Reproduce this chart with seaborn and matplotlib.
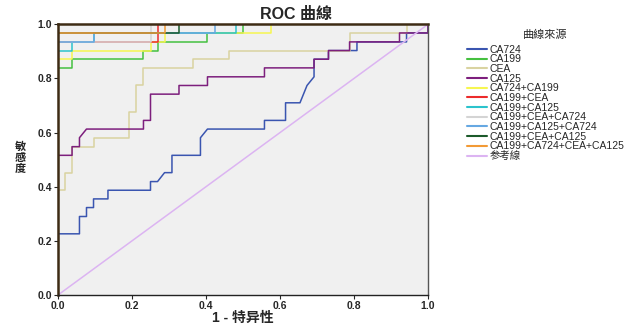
import matplotlib
matplotlib.use('Agg')
import matplotlib.pyplot as plt
import seaborn as sns
import pandas as pd

# ---------------- data ----------------
names = ['CA724', 'CA199', 'CEA', 'CA125', 'CA724+CA199', 'CA199+CEA',
         'CA199+CA125', 'CA199+CEA+CA724', 'CA199+CA125+CA724',
         'CA199+CEA+CA125', 'CA199+CA724+CEA+CA125', '参考線']

CA724_x = [0, 0, 0.058, 0.058, 0.077, 0.077, 0.096, 0.096, 0.135, 0.135, 0.250, 0.250,
           0.269, 0.288, 0.308, 0.308, 0.385, 0.385, 0.404, 0.558, 0.558, 0.615, 0.615,
           0.654, 0.673, 0.692, 0.692, 0.731, 0.731, 0.808, 0.808, 0.942, 0.942, 1.0, 1.0]
CA724_y = [0, 0.226, 0.226, 0.290, 0.290, 0.323, 0.323, 0.355, 0.355, 0.387, 0.387, 0.419,
           0.419, 0.452, 0.452, 0.516, 0.516, 0.581, 0.613, 0.613, 0.645, 0.645, 0.710,
           0.710, 0.774, 0.806, 0.871, 0.871, 0.903, 0.903, 0.935, 0.935, 0.968, 0.968, 1.0]

CA199_x = [0, 0, 0.038, 0.038, 0.231, 0.231, 0.269, 0.269, 0.404, 0.404, 0.500, 0.500, 1.0]
CA199_y = [0, 0.839, 0.839, 0.871, 0.871, 0.903, 0.903, 0.935, 0.935, 0.968, 0.968, 1.0, 1.0]

CEA_x = [0, 0, 0.019, 0.019, 0.038, 0.038, 0.096, 0.096, 0.192, 0.192, 0.212, 0.212,
         0.231, 0.231, 0.365, 0.365, 0.462, 0.462, 0.788, 0.788, 0.942, 0.942, 1.0]
CEA_y = [0, 0.387, 0.387, 0.452, 0.452, 0.548, 0.548, 0.581, 0.581, 0.677, 0.677, 0.774,
         0.774, 0.839, 0.839, 0.871, 0.871, 0.903, 0.903, 0.968, 0.968, 1.0, 1.0]

CA125_x = [0, 0, 0.038, 0.038, 0.058, 0.058, 0.077, 0.231, 0.231, 0.250, 0.250, 0.327, 0.327,
           0.404, 0.404, 0.558, 0.558, 0.692, 0.692, 0.731, 0.731, 0.788, 0.788, 0.923,
           0.923, 1.0, 1.0]
CA125_y = [0, 0.516, 0.516, 0.548, 0.548, 0.581, 0.613, 0.613, 0.645, 0.645, 0.742, 0.742,
           0.774, 0.774, 0.806, 0.806, 0.839, 0.839, 0.871, 0.871, 0.903, 0.903, 0.935,
           0.935, 0.968, 0.968, 1.0]

C724_199_x = [0, 0, 0.038, 0.038, 0.250, 0.250, 0.288, 0.288, 0.577, 0.577, 1.0]
C724_199_y = [0, 0.871, 0.871, 0.903, 0.903, 0.935, 0.935, 0.968, 0.968, 1.0, 1.0]

C199_CEA_x = [0, 0, 0.269, 0.269, 1.0]
C199_CEA_y = [0, 0.935, 0.935, 1.0, 1.0]

C199_125_x = [0, 0, 0.038, 0.038, 0.096, 0.096, 0.481, 0.481, 1.0]
C199_125_y = [0, 0.903, 0.903, 0.935, 0.935, 0.968, 0.968, 1.0, 1.0]

C199_CEA_724_x = [0, 0, 0.250, 0.250, 1.0]
C199_CEA_724_y = [0, 0.935, 0.935, 1.0, 1.0]

C199_125_724_x = [0, 0, 0.096, 0.096, 0.423, 0.423, 1.0]
C199_125_724_y = [0, 0.935, 0.935, 0.968, 0.968, 1.0, 1.0]

C199_CEA_125_x = [0, 0, 0.327, 0.327, 1.0]
C199_CEA_125_y = [0, 0.968, 0.968, 1.0, 1.0]

C_all_x = [0, 0, 0.288, 0.288, 1.0]
C_all_y = [0, 0.968, 0.968, 1.0, 1.0]

REF_x = [0, 1.0]
REF_y = [0, 1.0]

xs = [CA724_x, CA199_x, CEA_x, CA125_x, C724_199_x, C199_CEA_x, C199_125_x,
      C199_CEA_724_x, C199_125_724_x, C199_CEA_125_x, C_all_x, REF_x]
ys = [CA724_y, CA199_y, CEA_y, CA125_y, C724_199_y, C199_CEA_y, C199_125_y,
      C199_CEA_724_y, C199_125_724_y, C199_CEA_125_y, C_all_y, REF_y]

colors = ['#3a55b0', '#45c040', '#d9d3a0', '#7d1f7d', '#f6f650', '#ec2b2b',
          '#2bc3cc', '#d4d4d4', '#66a8e2', '#1b5a2a', '#f29a35', '#dcb4f2']

frames = [pd.DataFrame({'fpr': x, 'tpr': y, 'curve': n}) for n, x, y in zip(names, xs, ys)]
df = pd.concat(frames, ignore_index=True)

# ---------------- plot ----------------
sns.set_style('white')
plt.rcParams['font.family'] = ['Liberation Sans', 'Noto Sans CJK SC']

fig = plt.figure(figsize=(6.32, 3.30), dpi=100)
ax = fig.add_axes([58 / 632, 35 / 330, 370 / 632, 270.7 / 330])
ax.set_facecolor('#f0f0f0')

sns.lineplot(data=df, x='fpr', y='tpr', hue='curve', hue_order=names,
             palette=colors, sort=False, estimator=None, linewidth=1.1, ax=ax)

ax.set_xlim(0, 1)
ax.set_ylim(0, 1)
ax.set_xticks([0, 0.2, 0.4, 0.6, 0.8, 1.0])
ax.set_yticks([0, 0.2, 0.4, 0.6, 0.8, 1.0])
ax.set_xticklabels(['0.0', '0.2', '0.4', '0.6', '0.8', '1.0'])
ax.set_yticklabels(['0.0', '0.2', '0.4', '0.6', '0.8', '1.0'])
ax.tick_params(axis='both', direction='out', length=3, width=0.8, labelsize=7.5,
               pad=1.5, bottom=True, left=True, top=False, right=False)
for lbl in ax.get_xticklabels() + ax.get_yticklabels():
    lbl.set_fontweight('bold')
ax.set_xlabel('')
ax.set_ylabel('')

for side in ['left', 'top']:
    ax.spines[side].set_color('#3d2b14')
    ax.spines[side].set_linewidth(1.8)
ax.spines['bottom'].set_color('#222222')
ax.spines['bottom'].set_linewidth(1.0)
ax.spines['right'].set_color('#555555')
ax.spines['right'].set_linewidth(1.0)

handles, labels = ax.get_legend_handles_labels()
if ax.get_legend() is not None:
    ax.get_legend().remove()
for h in handles:
    h.set_linewidth(1.5)
leg = fig.legend(handles, labels, title='曲線來源', loc='upper left',
                 bbox_to_anchor=(467 / 632, 1 - 30 / 330), bbox_transform=fig.transFigure,
                 frameon=False, fontsize=7.5, title_fontsize=8, labelspacing=-0.03,
                 handlelength=1.9, handletextpad=0.25, borderpad=0, borderaxespad=0)
leg._legend_box.sep = 3

fig.text(296 / 632, 1 - 14 / 330, 'ROC 曲線', ha='center', va='center',
         fontsize=11.5, fontweight='bold')
fig.text(243 / 632, 1 - 318 / 330, '1 - 特异性', ha='center', va='center',
         fontsize=10, fontweight='bold')
for ch, yy in zip(['敏', '感', '度'], [147, 158, 169]):
    fig.text(20 / 632, 1 - yy / 330, ch, ha='center', va='center',
             fontsize=8, fontweight='bold')

fig.savefig('out.png', dpi=100, facecolor='white')
